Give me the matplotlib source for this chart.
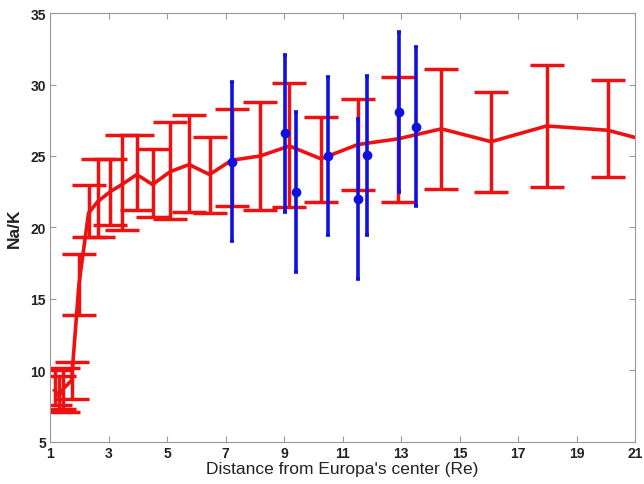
import numpy as np
import matplotlib
matplotlib.use('Agg')
from matplotlib import pyplot as plt

plt.rcParams['font.family'] = ['Liberation Sans', 'DejaVu Sans']

# red model curve: distance, mean, upper end, lower end of bar
red_x = [1.15, 1.30, 1.44, 1.73, 1.98, 2.31, 2.62, 3.05, 3.45, 3.96, 4.50, 5.10,
         5.75, 6.45, 7.20, 8.18, 9.18, 10.26, 11.52, 12.90, 14.38, 16.08, 17.98,
         20.07, 22.10]
red_y = [8.6, 8.2, 8.7, 9.3, 16.0, 21.0, 21.8, 22.5, 23.0, 23.7, 23.0, 23.9,
         24.4, 23.7, 24.7, 25.0, 25.7, 24.8, 25.8, 26.2, 26.9, 26.0, 27.1,
         26.8, 25.7]
red_hi = [10.0, 9.6, 10.15, 10.6, 18.15, 23.0, 24.8, 24.8, 26.5, 26.5, 25.5, 27.4,
          27.9, 26.35, 28.3, 28.75, 30.1, 27.7, 29.0, 30.5, 31.1, 29.45, 31.4,
          30.3, 29.5]
red_lo = [7.6, 7.3, 7.1, 8.0, 13.9, 19.3, 19.3, 20.2, 19.8, 21.2, 20.7, 20.6,
          21.1, 21.0, 21.5, 21.2, 21.4, 21.8, 22.6, 21.8, 22.7, 22.5, 22.8,
          23.5, 22.0]

# blue measurements
blue_x = [7.23, 9.02, 9.42, 10.51, 11.53, 11.83, 12.93, 13.51]
blue_y = [24.6, 26.6, 22.5, 25.0, 22.0, 25.05, 28.05, 27.05]
blue_err = [5.55, 5.5, 5.6, 5.55, 5.6, 5.55, 5.6, 5.55]

xticks = [1, 3, 5, 7, 9, 11, 13, 15, 17, 19, 21]
yticks = [5, 10, 15, 20, 25, 30, 35]

red_y = np.array(red_y)
red_err = [red_y - np.array(red_lo), np.array(red_hi) - red_y]

fig = plt.figure(figsize=(6.44, 4.85), dpi=100)
ax = fig.add_axes([0.078, 0.087, 0.908, 0.884])

ax.errorbar(red_x, red_y, yerr=red_err, color='#ee1111', linewidth=2.6,
            elinewidth=2.5, capsize=12, capthick=2.5, zorder=2)
ax.errorbar(blue_x, blue_y, yerr=blue_err, fmt='o', color='#1111dd',
            markersize=6, elinewidth=2.6, capsize=1.5, capthick=2.6, zorder=3)

ax.set_xlim(1, 21)
ax.set_ylim(5, 35)
ax.set_xticks(xticks)
ax.set_yticks(yticks)
for s in ax.spines.values():
    s.set_color('#999999')
ax.tick_params(direction='in', length=4, color='#999999', top=True, right=True,
               labelsize=10, pad=3)
for lab in ax.get_xticklabels() + ax.get_yticklabels():
    lab.set_fontweight('bold')
    lab.set_color('#222222')

ax.set_xlabel("Distance from Europa's center (Re)", fontsize=12.5, labelpad=1,
              color='#222222')
ax.set_ylabel('Na/K', fontsize=12.5, fontweight='bold', labelpad=6,
              color='#222222')

fig.savefig('out.png', dpi=100)
